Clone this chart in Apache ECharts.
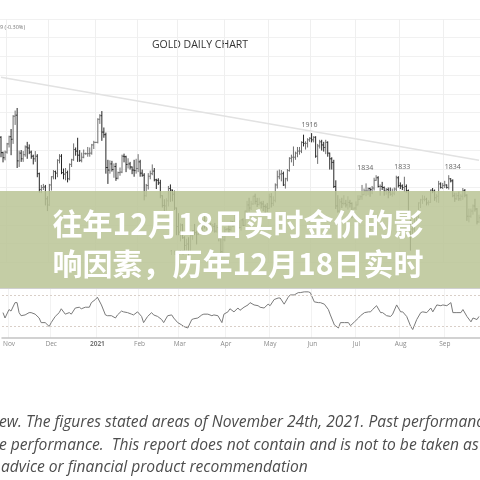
<!DOCTYPE html>
<html>
<head>
<meta charset="utf-8">
<script src="https://cdn.jsdelivr.net/npm/echarts@6/dist/echarts.min.js"></script>
<style>
  html, body { margin: 0; padding: 0; background: #fff; }
  #chart { width: 480px; height: 480px; }
</style>
</head>
<body>
<div id="chart"></div>
<script>
// Gold daily bars, one row per trading day: [open, close, low, high]
const oct2020 = [[1908,1878,1869,1910],[1878,1868,1859,1880],[1868,1879,1863,1882]];
const nov2020 = [
  [1879,1895,1876,1897],[1895,1909,1888,1911],[1909,1904,1873,1924],[1904,1949,1895,1951],
  [1949,1951,1932,1960],[1951,1862,1848,1965],[1862,1877,1850,1882],[1877,1866,1860,1883],
  [1866,1874,1860,1881],[1874,1889,1870,1892],[1889,1887,1866,1899],[1887,1879,1875,1894],
  [1879,1871,1866,1882],[1871,1866,1855,1874],[1866,1871,1860,1881],[1871,1837,1830,1875],
  [1837,1806,1800,1839],[1806,1810,1799,1815],[1810,1811,1805,1817],[1811,1788,1775,1815],
  [1788,1776,1764,1793]];
const dec2020 = [
  [1776,1815,1774,1817],[1815,1831,1804,1832],[1831,1841,1826,1844],[1841,1838,1826,1843],
  [1838,1863,1830,1865],[1863,1871,1857,1875],[1871,1839,1836,1875],[1839,1836,1826,1847],
  [1836,1839,1824,1848],[1839,1827,1820,1843],[1827,1855,1824,1857],[1855,1864,1850,1866],
  [1864,1884,1862,1896],[1884,1881,1872,1888],[1881,1873,1860,1907],[1873,1863,1860,1883],
  [1863,1869,1859,1878],[1869,1876,1867,1884],[1876,1876,1874,1878],[1876,1876,1870,1889],
  [1876,1877,1870,1888],[1877,1893,1874,1895],[1893,1898,1885,1901]];
const jan2021 = [
  [1898,1898,1897,1899],[1898,1943,1896,1945],[1943,1950,1934,1953],[1950,1918,1901,1959],
  [1918,1913,1907,1927],[1913,1849,1837,1917],[1849,1844,1817,1864],[1844,1856,1837,1863],
  [1856,1845,1841,1862],[1845,1851,1829,1857],[1851,1828,1823,1858],[1828,1839,1826,1841],
  [1839,1840,1833,1849],[1840,1871,1838,1874],[1871,1870,1859,1876],[1870,1855,1840,1872],
  [1855,1856,1847,1867],[1856,1850,1845,1860],[1850,1844,1836,1851],[1844,1843,1831,1864],
  [1843,1847,1837,1866]];
const feb2021 = [
  [1847,1860,1840,1875],[1860,1838,1831,1864],[1838,1834,1831,1845],[1834,1794,1785,1838],
  [1794,1814,1792,1817],[1814,1832,1806,1838],[1832,1837,1826,1843],[1837,1842,1834,1855],
  [1842,1825,1822,1848],[1825,1824,1807,1827],[1824,1819,1815,1828],[1819,1794,1789,1825],
  [1794,1775,1771,1795],[1775,1774,1760,1787],[1774,1784,1765,1789],[1784,1808,1773,1813],
  [1808,1805,1782,1816],[1805,1797,1783,1806],[1797,1770,1766,1804],[1770,1734,1717,1771]];
const mar2021 = [
  [1734,1723,1717,1760],[1723,1737,1705,1740],[1737,1712,1710,1739],[1712,1697,1688,1715],
  [1697,1700,1687,1710],[1700,1683,1677,1713],[1683,1716,1681,1719],[1716,1726,1708,1727],
  [1726,1722,1717,1739],[1722,1719,1699,1726],[1719,1731,1717,1733],[1731,1731,1722,1741],
  [1731,1745,1724,1748],[1745,1736,1730,1755],[1736,1745,1727,1746],[1745,1737,1728,1748],
  [1737,1726,1723,1741],[1726,1734,1724,1739],[1734,1725,1722,1741],[1725,1732,1722,1737],
  [1732,1711,1705,1733],[1711,1685,1678,1713],[1685,1708,1681,1716]];
const apr2021 = [
  [1708,1728,1705,1733],[1728,1729,1726,1731],[1729,1728,1720,1739],[1728,1743,1725,1746],
  [1743,1737,1733,1745],[1737,1756,1736,1759],[1756,1744,1734,1758],[1744,1732,1729,1746],
  [1732,1747,1726,1748],[1747,1736,1735,1750],[1736,1764,1735,1765],[1764,1776,1759,1784],
  [1776,1770,1763,1790],[1770,1778,1766,1784],[1778,1793,1776,1794],[1793,1783,1777,1798],
  [1783,1777,1772,1790],[1777,1780,1775,1790],[1780,1778,1769,1783],[1778,1773,1764,1784],
  [1773,1772,1757,1777],[1772,1769,1762,1780]];
const may2021 = [
  [1769,1792,1768,1798],[1792,1779,1771,1799],[1779,1785,1774,1793],[1785,1815,1781,1818],
  [1815,1831,1808,1843],[1831,1836,1826,1845],[1836,1837,1822,1844],[1837,1815,1813,1841],
  [1815,1827,1808,1829],[1827,1843,1822,1846],[1843,1867,1841,1869],[1867,1869,1859,1874],
  [1869,1869,1852,1890],[1869,1877,1864,1880],[1877,1881,1869,1889],[1881,1881,1874,1889],
  [1881,1898,1877,1900],[1898,1896,1890,1913],[1896,1896,1884,1900],[1896,1903,1888,1906],
  [1903,1906,1899,1908]];
const jun2021 = [
  [1906,1903,1898,1916],[1903,1908,1898,1910],[1908,1871,1868,1910],[1871,1891,1856,1895],
  [1891,1899,1886,1903],[1899,1893,1882,1903],[1893,1888,1880,1899],[1888,1898,1875,1903],
  [1898,1877,1870,1900],[1877,1866,1845,1878],[1866,1859,1845,1869],[1859,1812,1809,1864],
  [1812,1774,1768,1824],[1774,1764,1761,1795],[1764,1782,1760,1788],[1782,1779,1770,1790],
  [1779,1779,1775,1795],[1779,1776,1771,1786],[1776,1781,1767,1793],[1781,1779,1771,1786],
  [1779,1761,1750,1781],[1761,1770,1751,1771]];
const jul2021 = [
  [1770,1776,1766,1783],[1776,1787,1775,1795],[1787,1792,1786,1795],[1792,1796,1786,1815],
  [1796,1803,1795,1808],[1803,1803,1793,1818],[1803,1808,1795,1810],[1808,1806,1792,1810],
  [1806,1809,1797,1813],[1809,1824,1804,1829],[1824,1829,1823,1834],[1829,1812,1810,1832],
  [1812,1812,1794,1816],[1812,1810,1805,1821],[1810,1803,1794,1812],[1803,1806,1796,1809],
  [1806,1801,1789,1810],[1801,1797,1794,1810],[1797,1799,1792,1808],[1799,1807,1795,1810],
  [1807,1829,1803,1833],[1829,1814,1810,1832]];
const aug2021 = [
  [1814,1813,1807,1820],[1813,1810,1805,1816],[1810,1812,1801,1831],[1812,1804,1800,1816],
  [1804,1763,1758,1806],[1763,1729,1687,1765],[1729,1729,1717,1741],[1729,1752,1724,1755],
  [1752,1753,1745,1757],[1753,1780,1747,1781],[1780,1786,1770,1788],[1786,1787,1778,1795],
  [1787,1787,1783,1794],[1787,1780,1775,1790],[1780,1781,1775,1785],[1781,1805,1780,1806],
  [1805,1803,1799,1809],[1803,1790,1784,1806],[1790,1793,1781,1797],[1793,1817,1780,1823],
  [1817,1810,1808,1820],[1810,1814,1807,1819]];
const sep2021 = [
  [1814,1815,1809,1823],[1815,1810,1808,1816],[1810,1827,1806,1834],[1827,1823,1820,1828],
  [1823,1794,1791,1826],[1794,1788,1782,1800],[1788,1794,1786,1800],[1794,1788,1784,1802],
  [1788,1793,1784,1797],[1793,1804,1786,1809],[1804,1795,1791,1807],[1795,1754,1745,1797],
  [1754,1754,1742,1769],[1754,1764,1751,1769],[1764,1774,1757,1777],[1774,1768,1763,1788],
  [1768,1743,1738,1770],[1743,1751,1741,1757]];

// RSI oscillator, [trading-day index, value]
const rsi = [
  [0,48],[1,41],[3,52],[4,50],[6,61],[7,61],[8,48],[9,44],[11,45],[13,48],[14,48],[16,46],
  [18,41],[19,35],[21,35],[23,30],[24,35],[26,43],[28,48],[29,53],[31,46],[33,48],[34,46],
  [36,54],[38,55],[39,53],[41,55],[43,55],[44,61],[46,65],[47,68],[49,58],[51,45],[52,44],
  [54,44],[56,41],[57,45],[59,50],[60,49],[62,48],[64,46],[65,45],[67,49],[69,43],[70,35],
  [72,43],[74,48],[75,45],[77,43],[79,39],[80,35],[82,44],[84,45],[85,41],[87,35],[89,32],
  [90,30],[92,28],[94,39],[95,40],[97,41],[99,45],[100,46],[102,46],[104,44],[105,45],
  [107,44],[109,35],[110,46],[112,49],[113,53],[115,49],[117,54],[118,51],[120,55],[122,58],
  [123,61],[125,58],[127,57],[128,55],[130,54],[132,59],[133,57],[135,65],[137,67],[138,67],
  [140,59],[142,68],[143,71],[145,71],[147,74],[148,74],[150,75],[152,75],[153,74],[155,62],
  [157,61],[158,61],[160,59],[162,52],[163,45],[165,32],[167,28],[168,35],[170,35],[172,35],
  [173,31],[175,36],[177,41],[178,44],[180,48],[182,49],[183,49],[184,52],[186,57],[188,48],
  [189,48],[191,44],[193,43],[194,46],[196,58],[198,49],[199,49],[201,43],[203,30],[204,26],
  [206,39],[208,48],[209,49],[211,48],[213,54],[214,49],[216,58],[218,57],[219,58],[221,57],
  [223,61],[224,48],[226,48],[228,48],[229,52],[231,43],[233,36],[234,41],[236,39],[237,43]];
const rsiLevels = [70, 30];

// month tick labels (January shows the year)
const monthNames = ['2021','Feb','Mar','Apr','May','Jun','Jul','Aug','Sep','Oct','Nov','Dec'];

// descending trend line, [day, price]
const trendLine = [[0, 2025], [237, 1863]];

// annotated swing points: day indices
const labelledHighs = [154, 186, 196, 222];
const labelledLows = [93];

const bars = [].concat(oct2020, nov2020, dec2020, jan2021, feb2021, mar2021,
  apr2021, may2021, jun2021, jul2021, aug2021, sep2021);

// trading-day calendar starting Wed 28 Oct 2020
const days = [];
const cursor = new Date(Date.UTC(2020, 9, 28));
while (days.length < bars.length) {
  const wd = cursor.getUTCDay();
  if (wd !== 0 && wd !== 6) days.push(new Date(cursor.getTime()));
  cursor.setUTCDate(cursor.getUTCDate() + 1);
}
const categories = days.map(t => t.toISOString().slice(0, 10));
const monthStart = new Set();
days.forEach((t, i) => {
  if (i > 0 && t.getUTCMonth() !== days[i - 1].getUTCMonth()) monthStart.add(i);
});
const isMonthStart = (idx) => monthStart.has(idx);

// OHLC bar: vertical range with open tick on the left and close tick on the right
function renderBar(params, api) {
  const i = api.value(0);
  const o = api.coord([i, api.value(1)]);
  const c = api.coord([i, api.value(2)]);
  const l = api.coord([i, api.value(3)]);
  const h = api.coord([i, api.value(4)]);
  const half = api.size([1, 0])[0] * 0.5;
  const up = api.value(2) >= api.value(1);
  const style = { stroke: up ? '#707070' : '#262626', lineWidth: 1 };
  return {
    type: 'group',
    children: [
      { type: 'line', shape: { x1: l[0], y1: l[1], x2: h[0], y2: h[1] }, style },
      { type: 'line', shape: { x1: o[0] - half, y1: o[1], x2: o[0], y2: o[1] }, style },
      { type: 'line', shape: { x1: c[0], y1: c[1], x2: c[0] + half, y2: c[1] }, style }
    ]
  };
}

const highOffsets = [[-2, -8], [-11, -7], [6, -9], [4, -8]];
const lowOffsets = [[-11, -3]];
const swingLabels = labelledHighs.map((d, k) => ({
  value: [d, bars[d][3]], label: { offset: highOffsets[k] }
})).concat(labelledLows.map((d, k) => ({
  value: [d, bars[d][2]], label: { offset: lowOffsets[k] }
})));

const chart = echarts.init(document.getElementById('chart'), null, { renderer: 'canvas' });

const disclaimerStyle = {
  fontSize: 15.6, fontStyle: 'italic', fontFamily: 'Open Sans', fill: '#4d4d4d', verticalAlign: 'middle'
};
const bannerStyle = {
  fontSize: 30, fontWeight: 'bold', fontFamily: 'Noto Sans CJK SC', fill: '#ffffff',
  align: 'center', verticalAlign: 'middle'
};

chart.setOption({
  animation: false,
  backgroundColor: '#ffffff',
  grid: [
    { left: 0, right: 0, top: 19, height: 243.4 },
    { left: 0, right: 0, top: 288, height: 50 }
  ],
  xAxis: [
    {
      type: 'category', gridIndex: 0, data: categories, boundaryGap: true,
      axisLine: { show: false }, axisTick: { show: false }, axisLabel: { show: false },
      splitLine: { show: true, interval: isMonthStart, lineStyle: { color: '#efefef', width: 1 } }
    },
    {
      type: 'category', gridIndex: 1, data: categories, boundaryGap: true,
      axisLine: { show: true, lineStyle: { color: '#c4c4c4', width: 1.5 } },
      axisTick: { show: false },
      splitLine: { show: true, interval: isMonthStart, lineStyle: { color: '#f2f2f2', width: 1 } },
      axisLabel: {
        show: true, interval: isMonthStart, margin: 3, fontSize: 6.5, color: '#8a8a8a',
        fontFamily: 'Open Sans',
        formatter: (value) => {
          const m = new Date(value + 'T00:00:00Z').getUTCMonth();
          return m === 0 ? '{y|' + monthNames[m] + '}' : monthNames[m];
        },
        rich: { y: { fontSize: 6.5, fontWeight: 'bold', color: '#777', fontFamily: 'Open Sans' } }
      }
    }
  ],
  yAxis: [
    {
      type: 'value', gridIndex: 0, min: 1664, max: 2138.5, interval: 36.5,
      axisLine: { show: false }, axisTick: { show: false }, axisLabel: { show: false },
      splitLine: { show: true, lineStyle: { color: '#f1f1f1', width: 1 } }
    },
    {
      type: 'value', gridIndex: 1, min: 15, max: 80,
      axisLine: { show: false }, axisTick: { show: false }, axisLabel: { show: false },
      splitLine: { show: false }
    }
  ],
  series: [
    {
      name: 'trend', type: 'line', xAxisIndex: 0, yAxisIndex: 0,
      data: trendLine, symbol: 'none', silent: true,
      lineStyle: { color: '#e2e2e2', width: 1.6 }, z: 1
    },
    {
      name: 'XAUUSD', type: 'custom', xAxisIndex: 0, yAxisIndex: 0,
      renderItem: renderBar,
      encode: { x: 0, y: [1, 2, 3, 4] },
      data: bars.map((b, i) => [i].concat(b)), z: 2
    },
    {
      name: 'swings', type: 'scatter', xAxisIndex: 0, yAxisIndex: 0,
      data: swingLabels, symbolSize: 1, itemStyle: { color: 'rgba(0,0,0,0)' },
      label: {
        show: true, position: 'inside', fontSize: 7, color: '#3a3a3a', fontFamily: 'Open Sans',
        formatter: (p) => String(p.value[1])
      }, z: 3
    },
    {
      name: 'RSI', type: 'line', xAxisIndex: 1, yAxisIndex: 1,
      data: rsi, symbol: 'none', lineStyle: { color: '#7a7a7a', width: 1 },
      markLine: {
        silent: true, symbol: 'none', label: { show: false },
        lineStyle: { color: '#d9cfc8', type: [2, 2], width: 1 },
        data: rsiLevels.map(v => ({ yAxis: v }))
      }
    }
  ],
  graphic: [
    { type: 'text', x: 0, y: 27, style: { text: '9 (-0.30%)', fontSize: 5.5, fill: '#777', verticalAlign: 'middle', fontFamily: 'Open Sans' } },
    { type: 'text', x: 200, y: 45.5, style: { text: 'GOLD DAILY CHART', fontSize: 10.5, fontFamily: 'Open Sans', fill: '#333', align: 'center', verticalAlign: 'middle' } },
    { type: 'line', shape: { x1: 0, y1: 288.5, x2: 480, y2: 288.5 }, style: { stroke: '#d0d0d0', lineWidth: 1 }, z: 50 },
    { type: 'rect', shape: { x: 0, y: 191, width: 480, height: 97 }, style: { fill: 'rgba(186,197,150,0.86)' }, z: 100 },
    { type: 'text', x: 238, y: 224, style: Object.assign({ text: '往年12月18日实时金价的影' }, bannerStyle), z: 101 },
    { type: 'text', x: 238, y: 263.5, style: Object.assign({ text: '响因素，历年12月18日实时' }, bannerStyle), z: 101 },
    { type: 'text', x: -1, y: 423, style: Object.assign({ text: 'ew. The figures stated areas of November 24th, 2021. Past performance' }, disclaimerStyle) },
    { type: 'text', x: -1, y: 446, style: Object.assign({ text: 'e performance.  This report does not contain and is not to be taken as' }, disclaimerStyle) },
    { type: 'text', x: 1, y: 468, style: Object.assign({ text: 'advice or financial product recommendation' }, disclaimerStyle) }
  ]
});
</script>
</body>
</html>
